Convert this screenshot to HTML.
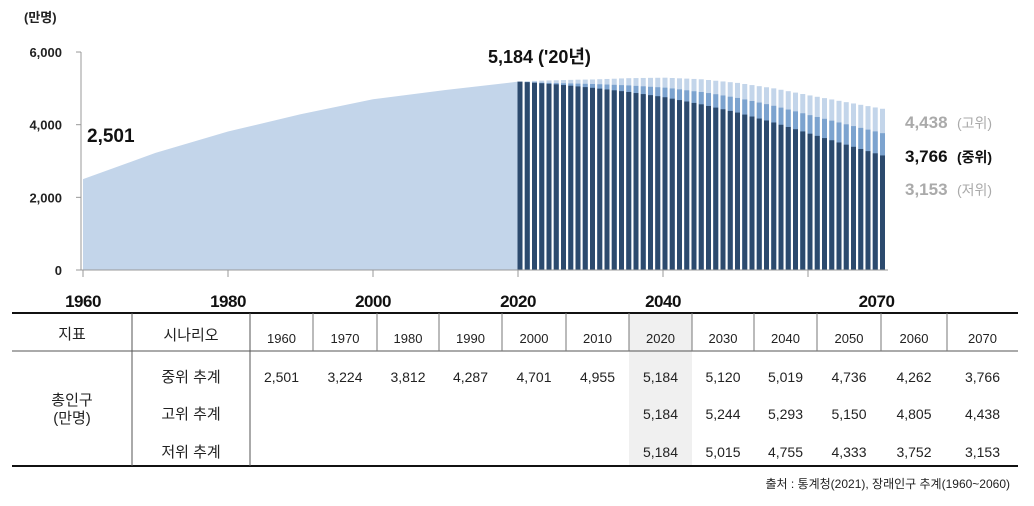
<!DOCTYPE html>
<html><head><meta charset="utf-8">
<style>
body{margin:0;background:#fff;width:1034px;height:501px;overflow:hidden;font-family:"Liberation Sans","Noto Sans CJK KR",sans-serif;}
svg text{font-family:"Liberation Sans","Noto Sans CJK KR",sans-serif;}
</style></head><body>
<svg id="c" width="1034" height="501" xmlns="http://www.w3.org/2000/svg"></svg>
<script>
const histYears=[1960,1970,1980,1990,2000,2010,2020];
const histValues=[2501,3224,3812,4287,4701,4955,5184];
const projStart=2020;
const midSeries=[5184,5175,5166,5157,5150,5145,5140,5135,5130,5125,5120,5113,5105,5097,5088,5080,5068,5056,5043,5031,5019,4997,4972,4946,4920,4900,4870,4838,4804,4770,4736,4694,4652,4609,4565,4520,4469,4417,4366,4314,4262,4212,4162,4111,4061,4010,3961,3912,3864,3815,3766];
const highSeries=[5184,5196,5205,5212,5218,5222,5228,5233,5238,5241,5244,5251,5258,5265,5273,5280,5283,5286,5289,5291,5293,5285,5276,5268,5259,5250,5230,5210,5190,5170,5150,5120,5090,5060,5030,5000,4961,4922,4883,4844,4805,4768,4731,4694,4657,4620,4584,4547,4511,4474,4438];
const lowSeries=[5184,5170,5155,5140,5125,5110,5091,5072,5053,5034,5015,4992,4969,4946,4923,4900,4871,4842,4813,4784,4755,4716,4677,4638,4599,4560,4515,4470,4424,4379,4333,4278,4224,4169,4115,4060,3998,3937,3875,3814,3752,3692,3631,3571,3510,3450,3391,3331,3272,3212,3153];
const yTicks=[0,2000,4000,6000];
const yTickLabels=["0","2,000","4,000","6,000"];
const xTickYears=[1960,1980,2000,2020,2040,2060];
const xLabels=[[1960,"1960"],[1980,"1980"],[2000,"2000"],[2020,"2020"],[2040,"2040"],[2070,"2070"]];
const tableYears=["1960","1970","1980","1990","2000","2010","2020","2030","2040","2050","2060","2070"];
const tableMid=["2,501","3,224","3,812","4,287","4,701","4,955","5,184","5,120","5,019","4,736","4,262","3,766"];
const tableHigh=["","","","","","","5,184","5,244","5,293","5,150","4,805","4,438"];
const tableLow=["","","","","","","5,184","5,015","4,755","4,333","3,752","3,153"];

const svg=document.getElementById('c');const NS='http://www.w3.org/2000/svg';
function X(yr){return 83+(yr-1960)*7.25;}
function Y(v){return 270-v*0.03633;}
function mk(t,a,txt){const e=document.createElementNS(NS,t);for(const k in a)e.setAttribute(k,a[k]);if(txt!==undefined)e.textContent=txt;svg.appendChild(e);return e;}
// area
let pts=X(1960)+','+Y(0);
histYears.forEach((y,i)=>{pts+=' '+X(y)+','+Y(histValues[i]);});
pts+=' '+X(2020)+','+Y(0);
let e=mk('polygon',{points:pts,fill:'#c3d5ea'});


// bars
midSeries.forEach((m,i)=>{const yr=projStart+i;const x=X(yr)-0.5;const w=5;
 let b=mk('rect',{x:x,y:Y(highSeries[i]),width:w,height:Y(0)-Y(highSeries[i]),fill:'#c3d5ea'});
 
 
 b=mk('rect',{x:x,y:Y(m),width:w,height:Y(0)-Y(m),fill:'#7ca3cf'});
 
 
 b=mk('rect',{x:x,y:Y(lowSeries[i]),width:w,height:Y(0)-Y(lowSeries[i]),fill:'#2c4a6e'});
 
 
});
// axes
mk('line',{x1:81,y1:Y(6000),x2:81,y2:270,stroke:'#999','stroke-width':1});
mk('line',{x1:76,y1:270,x2:888,y2:270,stroke:'#999','stroke-width':1});
yTicks.forEach((t,i)=>{mk('line',{x1:76,x2:81,y1:Y(t),y2:Y(t),stroke:'#999'});
 let l=mk('text',{x:62,y:Y(t)+5,'text-anchor':'end','font-size':13,'font-weight':'bold',fill:'#222'},yTickLabels[i]);
 
 });
xTickYears.forEach(t=>{mk('line',{x1:X(t),x2:X(t),y1:270,y2:277,stroke:'#999'});});
xLabels.forEach(p=>{let l=mk('text',{x:X(p[0])+(p[0]==2070?-4:0),y:307,'text-anchor':'middle','font-size':17,'font-weight':'bold',fill:'#111','letter-spacing':'-0.5'},p[1]);
 
 });
mk('text',{x:24,y:22,'font-size':13,'font-weight':'bold',fill:'#222'},'(만명)');
mk('text',{x:87,y:142,'font-size':19,'font-weight':'bold',fill:'#111'},'2,501');
mk('text',{x:488,y:63,'font-size':18,'font-weight':'bold',fill:'#111'},"5,184 ('20년)");
mk('text',{x:905,y:128,'font-size':17,'font-weight':'bold',fill:'#aaa'},'4,438');
mk('text',{x:957,y:128,'font-size':14,fill:'#aaa'},'(고위)');
mk('text',{x:905,y:162,'font-size':17,'font-weight':'bold',fill:'#111'},'3,766');
mk('text',{x:957,y:162,'font-size':14,'font-weight':'bold',fill:'#111'},'(중위)');
mk('text',{x:905,y:195,'font-size':17,'font-weight':'bold',fill:'#aaa'},'3,153');
mk('text',{x:957,y:195,'font-size':14,fill:'#aaa'},'(저위)');
// table
const bounds=[250,313,377,439,502,566,629,692,754,817,881,947,1018];
mk('rect',{x:629,y:314,width:63,height:152,fill:'#f0f0f0'});
mk('line',{x1:12,x2:1018,y1:313,y2:313,stroke:'#111','stroke-width':2});
mk('line',{x1:12,x2:1018,y1:351,y2:351,stroke:'#555','stroke-width':1});
mk('line',{x1:12,x2:1018,y1:466,y2:466,stroke:'#111','stroke-width':2});
mk('line',{x1:132,x2:132,y1:313,y2:466,stroke:'#555'});
mk('line',{x1:250,x2:250,y1:313,y2:466,stroke:'#555'});
for(let i=1;i<bounds.length-1;i++)mk('line',{x1:bounds[i],x2:bounds[i],y1:313,y2:351,stroke:'#777'});
const T=(x,y,s,sz,anc)=>{let t=mk('text',{x:x,y:y,'text-anchor':anc||'middle','font-size':sz||14,fill:'#222'},s);return t;};
T(72,339,'지표',15);T(191,340,'시나리오',15);
T(191,382,'중위 추계',15);T(191,419,'고위 추계',15);T(191,457,'저위 추계',15);
T(72,405,'총인구',15);T(72,423,'(만명)',15);
tableYears.forEach((y,i)=>{const cx=(bounds[i]+bounds[i+1])/2;T(cx,343,y,13);
 T(cx,382,tableMid[i],14);T(cx,419,tableHigh[i],14);T(cx,457,tableLow[i],14);});
T(1010,488,'출처 : 통계청(2021), 장래인구 추계(1960~2060)',12,'end');
</script>
</body></html>
